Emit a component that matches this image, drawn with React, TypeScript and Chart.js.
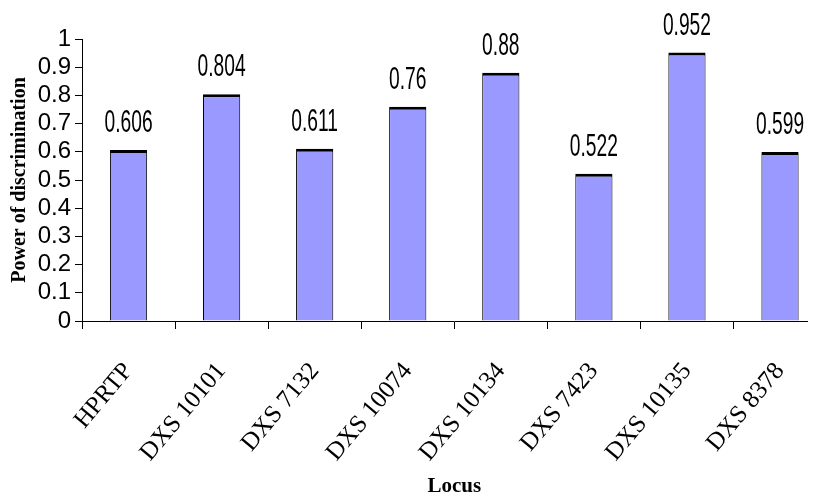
import React, { useEffect, useRef } from "react";
import { Chart, registerables } from "chart.js";

Chart.register(...registerables);

const categories = [
  "HPRTP",
  "DXS 10101",
  "DXS 7132",
  "DXS 10074",
  "DXS 10134",
  "DXS 7423",
  "DXS 10135",
  "DXS 8378",
];
const powerValues = [0.606, 0.804, 0.611, 0.76, 0.88, 0.522, 0.952, 0.599];
const yTickLabels = ["0", "0.1", "0.2", "0.3", "0.4", "0.5", "0.6", "0.7", "0.8", "0.9", "1"];

const valueLabelPlugin = {
  id: "valueLabels",
  afterDatasetsDraw(chart: any) {
    const ctx = chart.ctx;
    const meta = chart.getDatasetMeta(0);
    ctx.save();
    ctx.font = "31px 'Liberation Sans', Arial, sans-serif";
    ctx.fillStyle = "#000";
    ctx.textAlign = "center";
    ctx.textBaseline = "alphabetic";
    meta.data.forEach((bar: any, i: number) => {
      ctx.save();
      ctx.translate(bar.x, bar.y - 18);
      ctx.scale(0.62, 1);
      ctx.fillText(String(powerValues[i]), 0, 0);
      ctx.restore();
    });
    ctx.restore();
  },
};

export default function App() {
  const canvasRef = useRef<HTMLCanvasElement | null>(null);

  useEffect(() => {
    if (!canvasRef.current) return;
    const chart = new Chart(canvasRef.current, {
      type: "bar",
      data: {
        labels: categories,
        datasets: [
          {
            data: powerValues,
            backgroundColor: "#9999FF",
            borderColor: "#000000",
            borderWidth: { top: 3, left: 1, right: 1, bottom: 0 },
            borderSkipped: false,
            barPercentage: 0.4,
            categoryPercentage: 1,
          },
        ],
      },
      options: {
        responsive: false,
        animation: false,
        layout: { padding: { top: 31, left: 0, right: 0, bottom: 0 } },
        plugins: {
          legend: { display: false },
          tooltip: { enabled: false },
        },
        scales: {
          x: {
            grid: {
              offset: true,
              drawOnChartArea: false,
              drawTicks: true,
              tickLength: 8,
              tickColor: "#000",
              color: "#000",
            },
            border: { color: "#000", width: 1 },
            ticks: {
              autoSkip: false,
              maxRotation: 50,
              minRotation: 50,
              padding: 28,
              color: "#000",
              font: { family: "'Liberation Serif', 'Times New Roman', serif", size: 25 },
            },
            title: {
              display: true,
              text: "Locus",
              color: "#000",
              padding: 0,
              font: { family: "'Liberation Serif', 'Times New Roman', serif", size: 21, weight: "bold", lineHeight: 1 },
            },
            afterFit: (scale: any) => {
              scale.height = 176;
            },
          },
          y: {
            min: 0,
            max: 1,
            grid: {
              drawOnChartArea: false,
              drawTicks: true,
              tickLength: 7,
              tickColor: "#000",
              color: "#000",
            },
            border: { color: "#000", width: 1 },
            ticks: {
              stepSize: 0.1,
              autoSkip: false,
              padding: 4,
              color: "#000",
              font: { family: "'Liberation Sans', Arial, sans-serif", size: 24 },
              callback: (_v: any, i: number) => yTickLabels[i],
            },
            title: {
              display: true,
              text: "Power of discrimination",
              color: "#000",
              padding: 0,
              font: { family: "'Liberation Serif', 'Times New Roman', serif", size: 20, weight: "bold" },
            },
            afterFit: (scale: any) => {
              scale.width = 74;
            },
          },
        },
      },
      plugins: [valueLabelPlugin],
    });
    return () => chart.destroy();
  }, []);

  return (
    <div style={{ width: 808, height: 489, overflow: "hidden" }}>
      <canvas ref={canvasRef} width={823} height={489} style={{ display: "block" }} />
    </div>
  );
}
